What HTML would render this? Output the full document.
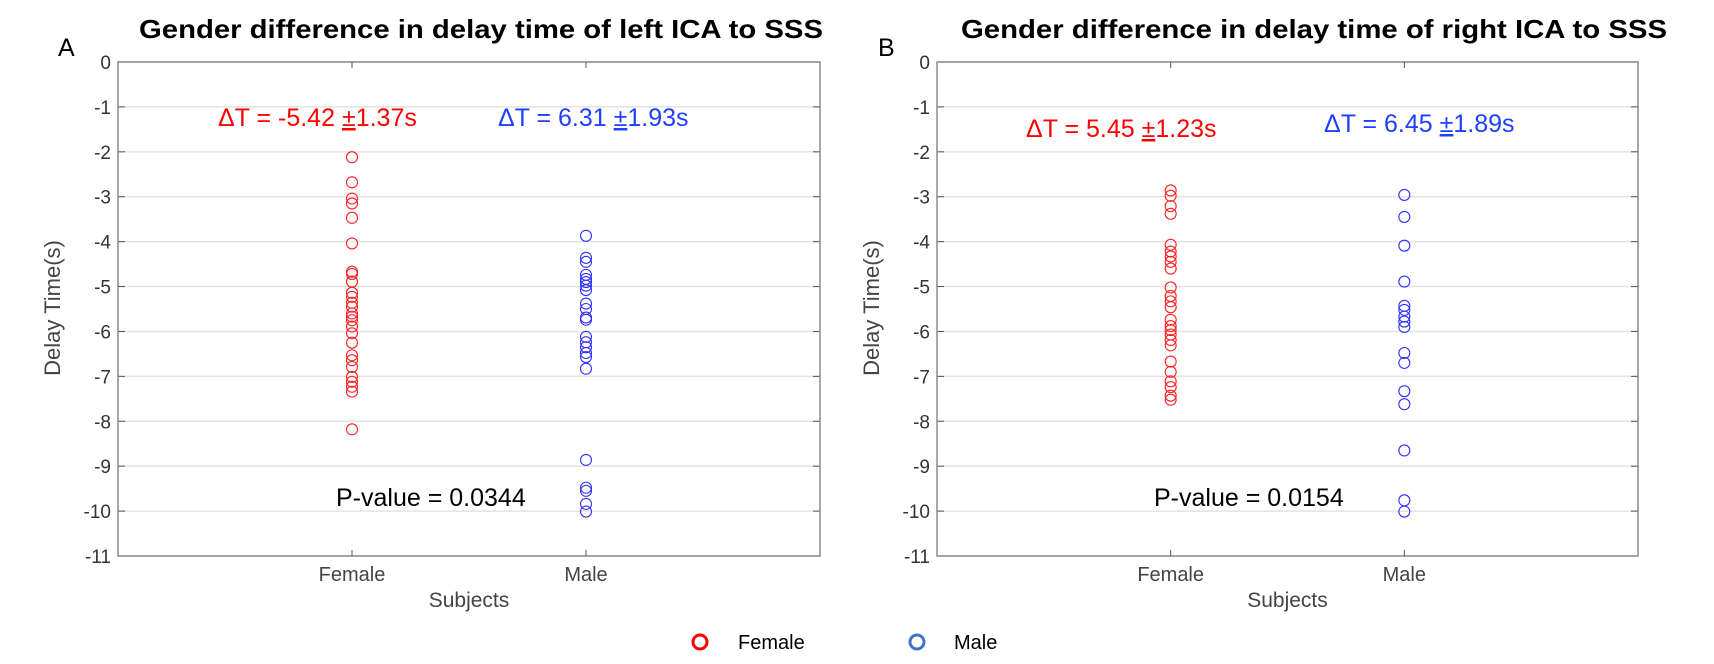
<!DOCTYPE html>
<html><head><meta charset="utf-8"><style>
html,body{margin:0;padding:0;background:#fff}
svg{display:block;font-family:"Liberation Sans",Arial,sans-serif}
</style></head><body>
<svg id="chart" width="1714" height="664" viewBox="0 0 1714 664" xmlns="http://www.w3.org/2000/svg"></svg>
<script>
const categories = ["Female", "Male"];
const yTicks = [0,-1,-2,-3,-4,-5,-6,-7,-8,-9,-10,-11];
const femaleLeft = [-2.12,-2.68,-3.04,-3.15,-3.47,-4.04,-4.67,-4.72,-4.89,-5.14,-5.23,-5.36,-5.45,-5.6,-5.67,-5.75,-5.89,-6.04,-6.25,-6.53,-6.64,-6.79,-7.01,-7.12,-7.23,-7.34,-8.18];
const maleLeft = [-3.87,-4.36,-4.45,-4.74,-4.83,-4.9,-4.98,-5.08,-5.38,-5.5,-5.69,-5.74,-6.12,-6.24,-6.35,-6.48,-6.57,-6.83,-8.86,-9.48,-9.55,-9.84,-10.01];
const femaleRight = [-2.86,-2.98,-3.21,-3.38,-4.07,-4.22,-4.33,-4.45,-4.6,-5.02,-5.21,-5.33,-5.46,-5.74,-5.88,-5.97,-6.07,-6.19,-6.31,-6.67,-6.9,-7.11,-7.24,-7.43,-7.52];
const maleRight = [-2.96,-3.45,-4.09,-4.89,-5.43,-5.52,-5.67,-5.78,-5.9,-6.48,-6.7,-7.33,-7.62,-8.65,-9.76,-10.01];

const NS="http://www.w3.org/2000/svg";
const svgRoot=document.getElementById('chart');
function mk(tag,attrs,parent,text){const e=document.createElementNS(NS,tag);for(const k in attrs)e.setAttribute(k,attrs[k]);if(text!==undefined)e.textContent=text;(parent||svgRoot).appendChild(e);return e;}

const panels=[
 {id:'a',letter:'A',lx:58,left:118,right:820,title:'Gender difference in delay time of left ICA to SSS',tx0:139,tx1:823,
  f:femaleLeft,m:maleLeft,rt:'ΔT = -5.42 ',rr:'1.37s',rx:218,ry:126,bt:'ΔT = 6.31 ',br:'1.93s',bx:498,by:126,p:'P-value = 0.0344',px:336},
 {id:'b',letter:'B',lx:878,left:937,right:1638,title:'Gender difference in delay time of right ICA to SSS',tx0:961,tx1:1667,
  f:femaleRight,m:maleRight,rt:'ΔT = 5.45 ',rr:'1.23s',rx:1026,ry:137,bt:'ΔT = 6.45 ',br:'1.89s',bx:1324,by:132,p:'P-value = 0.0154',px:1154}
];
const axTop=62,axBottom=556;
function annot(g,x,y,col,pre,post,name){
  const t=mk('text',{x:x,y:y,'font-size':25,fill:col},g);
  
  
  mk('tspan',{},t,pre);
  mk('tspan',{'text-decoration':'underline'},t,'±');
  mk('tspan',{},t,post);
}
panels.forEach(P=>{
  const g=mk('g',{});
  
  
  const xS=v=>P.left+(P.right-P.left)*v/3;
  const yS=v=>axTop+(axBottom-axTop)*(-v)/11;
  yTicks.forEach(t=>{
    const l=mk('line',{x1:P.left,x2:P.right,y1:yS(t),y2:yS(t),stroke:'#e3e3e3','stroke-width':1.5},g);
    
    
    mk('line',{x1:P.left,x2:P.left+7,y1:yS(t),y2:yS(t),stroke:'#555','stroke-width':1},g);
    mk('line',{x1:P.right,x2:P.right-7,y1:yS(t),y2:yS(t),stroke:'#555','stroke-width':1},g);
    const tl=mk('text',{x:P.left-7,y:yS(t)+7,'text-anchor':'end','font-size':19,fill:'#333'},g,String(t));
    
    
  });
  const box=mk('rect',{x:P.left,y:axTop,width:P.right-P.left,height:axBottom-axTop,fill:'none',stroke:'#8a8a8a','stroke-width':1.5},g);
  
  
  categories.forEach((c,i)=>{
    const x=xS(i+1);
    mk('line',{x1:x,x2:x,y1:axTop,y2:axTop+6,stroke:'#555'},g);
    mk('line',{x1:x,x2:x,y1:axBottom,y2:axBottom-6,stroke:'#555'},g);
    const t=mk('text',{x:x,y:581,'text-anchor':'middle','font-size':20,fill:'#444'},g,c);
    
    
  });
  const xt=mk('text',{x:(P.left+P.right)/2,y:607,'text-anchor':'middle','font-size':21,fill:'#444'},g,'Subjects');
  
  
  const yt=mk('text',{x:0,y:0,'text-anchor':'middle','font-size':22,fill:'#444',transform:'translate('+(P.left-58)+',308) rotate(-90)'},g,'Delay Time(s)');
  
  
  const ti=mk('text',{x:P.tx0,y:38,'font-size':26,'font-weight':'bold',fill:'#000',textLength:P.tx1-P.tx0,lengthAdjust:'spacingAndGlyphs'},g,P.title);
  
  
  const le=mk('text',{x:P.lx,y:56,'font-size':25,fill:'#000'},g,P.letter);
  
  
  [[P.f,1,'#ff2020','female-point'],[P.m,2,'#3030ff','male-point']].forEach(([arr,ci,col,name])=>{
    arr.forEach(v=>{
      const c=mk('circle',{cx:xS(ci),cy:yS(v),r:5.5,fill:'none',stroke:col,'stroke-width':1.1},g);
      
      
    });
  });
  annot(g,P.rx,P.ry,'#ff0000',P.rt,P.rr,'female-delta-annotation');
  annot(g,P.bx,P.by,'#1f3fff',P.bt,P.br,'male-delta-annotation');
  const p=mk('text',{x:P.px,y:506,'font-size':25,fill:'#000'},g,P.p);
  
  
});
const lg=mk('g',{});


const l1=mk('circle',{cx:700,cy:642,r:7,fill:'none',stroke:'#ff0000','stroke-width':3},lg);


const l1t=mk('text',{x:738,y:649,'font-size':20,fill:'#000'},lg,'Female');


const l2=mk('circle',{cx:917,cy:642,r:7,fill:'none',stroke:'#4472c4','stroke-width':3},lg);


const l2t=mk('text',{x:954,y:649,'font-size':20,fill:'#000'},lg,'Male');


</script>
</body></html>
